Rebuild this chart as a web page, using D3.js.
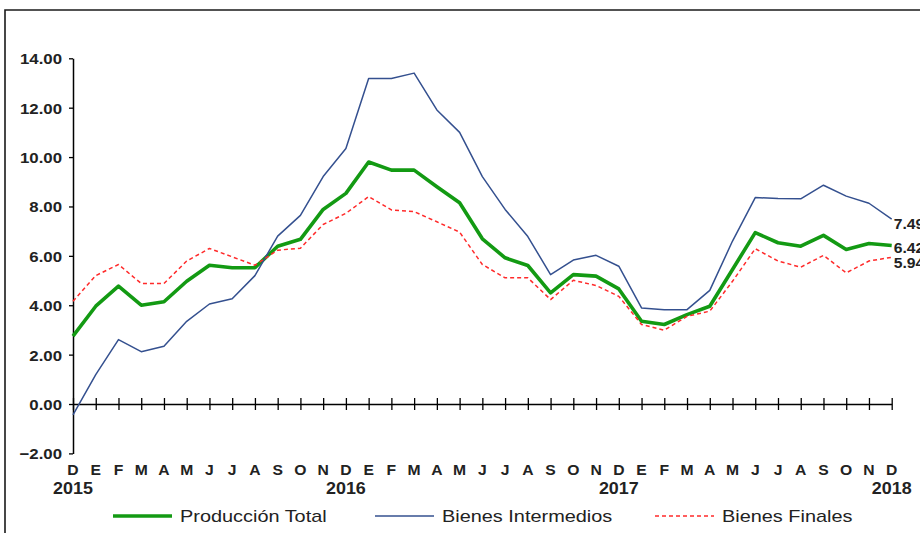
<!DOCTYPE html>
<html>
<head>
<meta charset="utf-8">
<script src="https://cdn.jsdelivr.net/npm/d3@7"></script>
<style>
  html, body { margin: 0; padding: 0; background: #fff; }
  svg { display: block; font-family: "Liberation Sans", Arial, sans-serif; }
</style>
</head>
<body>
<svg id="chart" width="920" height="533"></svg>
<script>
// ---- data ----
const months = ["D","E","F","M","A","M","J","J","A","S","O","N",
                "D","E","F","M","A","M","J","J","A","S","O","N",
                "D","E","F","M","A","M","J","J","A","S","O","N","D"];
const yearLabels = [{i: 0, t: "2015"}, {i: 12, t: "2016"}, {i: 24, t: "2017"}, {i: 36, t: "2018"}];
const yTicks = [-2, 0, 2, 4, 6, 8, 10, 12, 14];

const produccionTotal = [2.75, 3.96, 4.77, 4.00, 4.14, 4.97, 5.62, 5.52, 5.52, 6.39, 6.67, 7.88,
  8.53, 9.80, 9.47, 9.47, 8.80, 8.15, 6.69, 5.92, 5.61, 4.50, 5.24, 5.18,
  4.66, 3.35, 3.22, 3.62, 3.96, 5.45, 6.94, 6.53, 6.39, 6.83, 6.26, 6.50, 6.42];
const bienesIntermedios = [-0.44, 1.19, 2.61, 2.12, 2.34, 3.35, 4.05, 4.26, 5.20, 6.80, 7.64, 9.21,
  10.35, 13.18, 13.18, 13.40, 11.91, 11.00, 9.21, 7.88, 6.78, 5.24, 5.83, 6.02,
  5.58, 3.89, 3.82, 3.82, 4.60, 6.60, 8.36, 8.32, 8.31, 8.86, 8.42, 8.13, 7.49];
const bienesFinales = [4.16, 5.20, 5.65, 4.88, 4.88, 5.79, 6.30, 5.96, 5.62, 6.23, 6.31, 7.27,
  7.72, 8.40, 7.86, 7.79, 7.38, 6.96, 5.65, 5.11, 5.11, 4.23, 5.01, 4.80,
  4.36, 3.22, 2.99, 3.55, 3.76, 4.97, 6.29, 5.79, 5.54, 6.02, 5.31, 5.79, 5.94];

const seriesNames = ["Producción Total", "Bienes Intermedios", "Bienes Finales"];

// ---- style ----
const series = [
  {name: seriesNames[0], values: produccionTotal, color: "#139a13", width: 3.6, dash: null, legX: 113, lblDy: 3},
  {name: seriesNames[1], values: bienesIntermedios, color: "#34508f", width: 1.5, dash: null, legX: 375, lblDy: 6},
  {name: seriesNames[2], values: bienesFinales, color: "#ff2a2a", width: 1.5, dash: "4,3", legX: 655, lblDy: 6}
];

const svg = d3.select("#chart");
const textColor = "#222";
const SX = 1.12;

// frame
svg.append("path")
  .attr("d", "M5,540 L5,10 L930,10")
  .attr("fill", "none").attr("stroke", "#1a1a1a").attr("stroke-width", 1.6);

const x = d3.scalePoint().domain(d3.range(months.length)).range([73, 891.7]);
const y = d3.scaleLinear().domain([-2, 14]).range([453.4, 58.3]);

// y axis
const yAxis = svg.append("g").attr("transform", "translate(73,0)")
  .call(d3.axisLeft(y).tickValues(yTicks).tickFormat(d3.format(".2f")).tickSizeInner(4).tickSizeOuter(0));
yAxis.select(".domain").attr("stroke", "#000").attr("stroke-width", 1.5);
yAxis.selectAll(".tick line").attr("stroke", "#000").attr("stroke-width", 1.3);
yAxis.selectAll(".tick text")
  .attr("x", 0).attr("dy", "0.36em")
  .attr("transform", `translate(-11,0) scale(${SX},1)`)
  .attr("fill", textColor)
  .style("font-size", "15px").style("font-weight", "bold")
  .style("font-family", "'Liberation Sans', Arial, sans-serif");

// x axis at zero
const xAxis = svg.append("g").attr("transform", `translate(0,${y(0)})`)
  .call(d3.axisBottom(x).tickFormat("").tickSizeInner(6).tickSizeOuter(0));
xAxis.select(".domain").attr("stroke", "#000").attr("stroke-width", 1.5);
xAxis.selectAll(".tick line").attr("y1", -6).attr("y2", 6).attr("stroke", "#000").attr("stroke-width", 1.3);

// month labels
svg.append("g").selectAll("text").data(months).join("text")
  .attr("transform", (d, i) => `translate(${x(i)},475) scale(${SX},1)`)
  .attr("text-anchor", "middle")
  .attr("fill", textColor)
  .style("font-size", "14px").style("font-weight", "bold")
  .text(d => d);

// year labels
svg.append("g").selectAll("text").data(yearLabels).join("text")
  .attr("transform", d => `translate(${x(d.i)},494) scale(${SX},1)`)
  .attr("text-anchor", "middle")
  .attr("fill", textColor)
  .style("font-size", "16px").style("font-weight", "bold")
  .text(d => d.t);

// lines
const line = d3.line().x((d, i) => x(i)).y(d => y(d));
series.forEach(s => {
  svg.append("path")
    .datum(s.values)
    .attr("d", line)
    .attr("fill", "none")
    .attr("stroke", s.color)
    .attr("stroke-width", s.width)
    .attr("stroke-linejoin", "round")
    .attr("stroke-dasharray", s.dash);
});

// end labels
series.forEach(s => {
  const last = s.values[s.values.length - 1];
  svg.append("text")
    .attr("transform", `translate(${x(s.values.length - 1) + 2},${y(last) + s.lblDy}) scale(${SX},1)`)
    .attr("dy", "0.3em")
    .attr("fill", textColor)
    .style("font-size", "14px").style("font-weight", "bold")
    .text(d3.format(".2f")(last));
});

// legend
const leg = svg.append("g");
series.forEach(s => {
  leg.append("line")
    .attr("x1", s.legX).attr("x2", s.legX + 59)
    .attr("y1", 516).attr("y2", 516)
    .attr("stroke", s.color).attr("stroke-width", s.width)
    .attr("stroke-dasharray", s.dash);
  leg.append("text")
    .attr("transform", `translate(${s.legX + 67},522) scale(1.17,1)`)
    .attr("fill", textColor)
    .style("font-size", "17px")
    .text(s.name);
});
</script>
</body>
</html>
